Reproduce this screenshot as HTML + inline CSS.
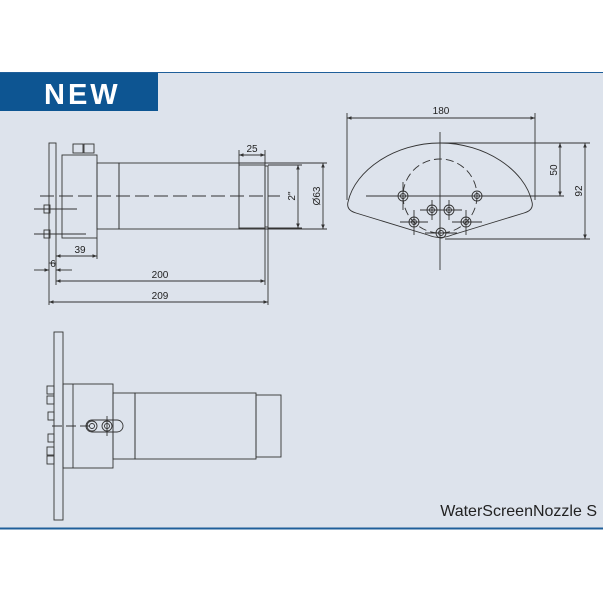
<!DOCTYPE html>
<html><head><style>
body{margin:0;background:#fff;width:603px;height:603px;overflow:hidden}
svg{display:block}
text{font-family:"Liberation Sans",sans-serif;fill:#222}
</style></head><body>
<svg width="603" height="603" viewBox="0 0 603 603">
<defs><marker id="a" viewBox="0 0 10 10" refX="10" refY="5" markerWidth="6" markerHeight="5" orient="auto-start-reverse"><path d="M0,1 L10,5 L0,9z" fill="#333"/></marker></defs>
<rect x="0" y="72" width="603" height="457" fill="#dde3ec"/>
<line x1="0" y1="72.5" x2="603" y2="72.5" stroke="#1f5f9a" stroke-width="1"/>
<line x1="0" y1="528.5" x2="603" y2="528.5" stroke="#1f5f9a" stroke-width="2"/>
<rect x="0" y="73" width="158" height="38" fill="#0d5592"/>
<text x="44" y="104" font-size="29" font-weight="bold" letter-spacing="3" style="fill:#fff">NEW</text>
<g fill="none" stroke="#333" stroke-width="0.9">
<!-- side view -->
<rect x="49" y="143" width="7" height="120"/>
<rect x="62" y="155" width="35" height="83"/>
<rect x="73" y="144" width="10" height="9"/><rect x="84" y="144" width="10" height="9"/>
<rect x="97" y="163" width="22" height="66"/>
<rect x="119" y="163" width="120" height="66"/>
<rect x="239" y="165" width="26" height="63"/>
<rect x="265" y="166" width="3" height="61"/>
<rect x="44" y="205" width="6" height="8"/><rect x="44" y="230" width="6" height="8"/>
<line x1="34" y1="209" x2="77" y2="209"/><line x1="34" y1="234" x2="86" y2="234"/>
<line x1="40" y1="196" x2="280" y2="196" stroke-dasharray="14 5"/>
<line x1="49" y1="263" x2="49" y2="305"/><line x1="56" y1="263" x2="56" y2="285"/>
<line x1="97" y1="238" x2="97" y2="259"/><line x1="265" y1="228" x2="265" y2="285"/><line x1="268" y1="227" x2="268" y2="305"/>
<line x1="239" y1="150" x2="239" y2="165"/><line x1="265" y1="150" x2="265" y2="165"/>
<line x1="268" y1="165" x2="302" y2="165"/><line x1="268" y1="228" x2="302" y2="228"/>
<line x1="239" y1="163" x2="327" y2="163"/><line x1="239" y1="229" x2="327" y2="229"/>
<line x1="239" y1="155" x2="265" y2="155" marker-start="url(#a)" marker-end="url(#a)"/>
<line x1="298" y1="165" x2="298" y2="228" marker-start="url(#a)" marker-end="url(#a)"/>
<line x1="323" y1="163" x2="323" y2="229" marker-start="url(#a)" marker-end="url(#a)"/>
<line x1="56" y1="256" x2="97" y2="256" marker-start="url(#a)" marker-end="url(#a)"/>
<line x1="34" y1="270" x2="49" y2="270" marker-end="url(#a)"/><line x1="72" y1="270" x2="56" y2="270" marker-end="url(#a)"/>
<line x1="56" y1="281" x2="265" y2="281" marker-start="url(#a)" marker-end="url(#a)"/>
<line x1="49" y1="302" x2="268" y2="302" marker-start="url(#a)" marker-end="url(#a)"/>
<!-- front view -->
<path d="M440,143 C395,143 355,170 348,202 Q346,210 356,213 L428,235 Q440,240 452,235 L524,213 Q534,210 532,202 C525,170 485,143 440,143Z"/>
<circle cx="440" cy="196" r="37" stroke-dasharray="8 4"/>
<line x1="440" y1="132" x2="440" y2="270"/>
<line x1="366" y1="196" x2="512" y2="196"/>
<line x1="347" y1="113" x2="347" y2="200"/><line x1="535" y1="113" x2="535" y2="200"/>
<line x1="347" y1="118" x2="535" y2="118" marker-start="url(#a)" marker-end="url(#a)"/>
<line x1="440" y1="143" x2="590" y2="143"/><line x1="512" y1="196" x2="564" y2="196"/><line x1="445" y1="239" x2="590" y2="239"/>
<line x1="560" y1="143" x2="560" y2="196" marker-start="url(#a)" marker-end="url(#a)"/>
<line x1="585" y1="143" x2="585" y2="239" marker-start="url(#a)" marker-end="url(#a)"/>
<g>
<circle cx="403" cy="196" r="5"/><circle cx="403" cy="196" r="2.5"/>
<circle cx="477" cy="196" r="5"/><circle cx="477" cy="196" r="2.5"/>
<circle cx="432" cy="210" r="5"/><circle cx="432" cy="210" r="2.5"/>
<circle cx="449" cy="210" r="5"/><circle cx="449" cy="210" r="2.5"/>
<circle cx="414" cy="222" r="5"/><circle cx="414" cy="222" r="2.5"/>
<circle cx="466" cy="222" r="5"/><circle cx="466" cy="222" r="2.5"/>
<circle cx="441" cy="233" r="5"/><circle cx="441" cy="233" r="2.5"/>
<path d="M403,182V210 M432,200V220 M449,200V220 M414,210V235 M466,210V235 M420,210H462 M400,222H428 M452,222H482 M425,233H457"/>
</g>
<!-- bottom view -->
<rect x="54" y="332" width="9" height="188"/>
<rect x="63" y="384" width="50" height="84"/><line x1="73" y1="384" x2="73" y2="468"/>
<rect x="113" y="393" width="22" height="66"/>
<rect x="135" y="393" width="121" height="66"/>
<rect x="256" y="395" width="25" height="62"/>
<rect x="47" y="386" width="7" height="8"/><rect x="47" y="396" width="7" height="8"/>
<rect x="48" y="412" width="6" height="8"/><rect x="48" y="434" width="6" height="8"/>
<rect x="47" y="447" width="7" height="8"/><rect x="47" y="456" width="7" height="8"/>
<line x1="52" y1="426" x2="90" y2="426" stroke-dasharray="10 4"/>
<path d="M92,420 H117 A6,6 0 0 1 117,432 H92 A6,6 0 0 1 92,420Z"/>
<circle cx="92" cy="426" r="5"/><circle cx="92" cy="426" r="2.5"/>
<circle cx="107" cy="426" r="5"/><circle cx="107" cy="426" r="2.5"/>
<line x1="107" y1="416" x2="107" y2="436"/>
</g>
<g font-size="10">
<text x="252" y="152" text-anchor="middle">25</text>
<text x="80" y="253" text-anchor="middle">39</text>
<text x="53" y="267" text-anchor="middle">6</text>
<text x="160" y="278" text-anchor="middle">200</text>
<text x="160" y="299" text-anchor="middle">209</text>
<text x="441" y="114" text-anchor="middle">180</text>
<text transform="translate(295,196) rotate(-90)" text-anchor="middle">2"</text>
<text transform="translate(320,196) rotate(-90)" text-anchor="middle">Ø63</text>
<text transform="translate(557,170) rotate(-90)" text-anchor="middle">50</text>
<text transform="translate(582,191) rotate(-90)" text-anchor="middle">92</text>
</g>
<text x="597" y="516" font-size="16" text-anchor="end">WaterScreenNozzle S</text>
</svg>
</body></html>
